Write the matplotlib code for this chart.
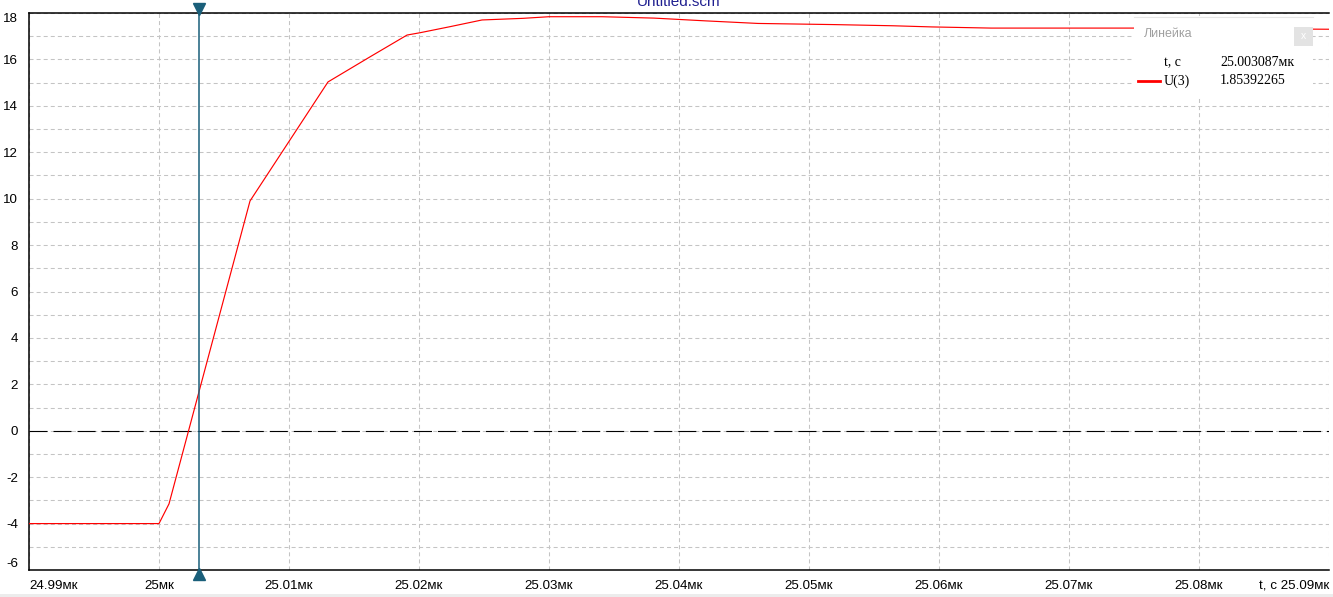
import numpy as np
import matplotlib
matplotlib.use("Agg")
import matplotlib.pyplot as plt
from matplotlib.patches import Rectangle
from matplotlib.transforms import offset_copy

# U(3) transient, time in microseconds
t_us = [24.99, 25.0, 25.00077, 25.0070, 25.0130, 25.01623, 25.01908, 25.02008,
        25.02238, 25.02485, 25.0280, 25.0300, 25.03408, 25.03808, 25.04208,
        25.04608, 25.0520, 25.05646, 25.05946, 25.0640, 25.075, 25.09]
u3 = [-4.0, -4.0, -3.15, 9.9, 15.03, 16.11, 17.05, 17.15,
      17.41, 17.70, 17.77, 17.84, 17.84, 17.78, 17.66,
      17.55, 17.50, 17.45, 17.40, 17.35, 17.35, 17.30]

cursor_t = 25.003087
cursor_val = "1.85392265"
x_ticks = [24.99, 25.0, 25.01, 25.02, 25.03, 25.04, 25.05, 25.06, 25.07, 25.08, 25.09]
y_ticks = [-6, -4, -2, 0, 2, 4, 6, 8, 10, 12, 14, 16, 18]

W, H = 1333, 597
plt.rcParams['lines.scale_dashes'] = False

def fx(px):
    return px / W

def fy(py):
    return 1 - py / H

fig = plt.figure(figsize=(W / 100, H / 100), dpi=100)
fig.patch.set_facecolor('white')
ax = fig.add_axes([fx(29), fy(570), fx(1300), 557 / H])

ax.set_xlim(24.99, 25.09)
ax.set_ylim(-6, 18)

# grid
ax.set_xticks(x_ticks)
ax.set_yticks(y_ticks)
ax.set_yticks(np.arange(-5, 18, 2), minor=True)
ax.grid(True, which='both', color='#c4c4c4', linestyle=(0, (2.9, 2.2)), linewidth=0.75)
ax.set_axisbelow(True)
ax.tick_params(which='both', length=0)

labels = []
for v in x_ticks:
    s = f"{v:.2f}".rstrip('0').rstrip('.') + "мк"
    labels.append(s)
labels[-1] = "t, c " + labels[-1]
ax.set_xticklabels(labels, fontsize=9.6, family='Liberation Sans')
xl = ax.get_xticklabels()
xl[0].set_ha('left')
xl[-1].set_ha('right')
ax.tick_params(axis='x', pad=7)

ax.set_yticklabels([str(v) for v in y_ticks], fontsize=9.6, family='Liberation Sans')
yl = ax.get_yticklabels()
yl[0].set_va('bottom')
yl[-1].set_va('top')
ax.tick_params(axis='y', pad=8)

for side in ['left', 'top', 'bottom']:
    ax.spines[side].set_linewidth(1.1)
    ax.spines[side].set_color('black')
ax.spines['right'].set_visible(False)

# zero line
ax.axhline(0, color='black', linewidth=0.8, linestyle=(0, (13, 4.3)), zorder=2)

# signal
ax.plot(t_us, u3, color='#ff0000', linewidth=0.85, zorder=3)

# cursor
cur_col = '#1a5f7a'
ax.axvline(cursor_t, color=cur_col, linewidth=1.1, zorder=4)
tr_top = offset_copy(ax.get_xaxis_transform(), fig=fig, y=4, units='dots')
tr_bot = offset_copy(ax.get_xaxis_transform(), fig=fig, y=-4, units='dots')
ax.plot([cursor_t], [1], marker='v', markersize=8.5, color=cur_col,
        transform=tr_top, clip_on=False, zorder=6)
ax.plot([cursor_t], [0], marker='^', markersize=8.5, color=cur_col,
        transform=tr_bot, clip_on=False, zorder=6)

# title (cropped at the top, as in the original window)
fig.text(fx(679), fy(6), "Untitled.scm", ha='center', va='baseline',
         fontsize=11, color='#202090', family='Liberation Sans')

# ruler panel
ax.add_patch(Rectangle((fx(1134), fy(96)), fx(179), 80 / H, transform=fig.transFigure,
                       facecolor='white', edgecolor='none', zorder=10, clip_on=False))
ax.plot([fx(1134), fx(1313)], [fy(16.5), fy(16.5)], transform=fig.transFigure,
        color='#e6e6e6', linewidth=0.8, zorder=11, clip_on=False)
ax.add_patch(Rectangle((fx(1294), fy(46)), fx(19), 19 / H, transform=fig.transFigure,
                       facecolor='#e3e3e3', edgecolor='none', zorder=11, clip_on=False))
fig.text(fx(1303.5), fy(36), "x", ha='center', va='center', fontsize=7.5,
         color='white', family='Liberation Sans', zorder=12)
fig.text(fx(1144), fy(34), "Линейка", ha='left', va='center', fontsize=9,
         color='#a0a0a0', family='Liberation Sans', zorder=12)

fig.text(fx(1164), fy(63), "t, c", ha='left', va='center', fontsize=10,
         family='Liberation Serif', zorder=12)
fig.text(fx(1220), fy(63), f"{cursor_t:.6f}мк", ha='left', va='center', fontsize=10,
         family='Liberation Serif', zorder=12)
ax.plot([fx(1138), fx(1160)], [fy(80.5), fy(80.5)], transform=fig.transFigure,
        color='#ff0000', linewidth=2, zorder=12, clip_on=False)
fig.text(fx(1164), fy(81), "U(3)", ha='left', va='center', fontsize=10,
         family='Liberation Serif', zorder=12)
fig.text(fx(1220), fy(81), cursor_val, ha='left', va='center', fontsize=10,
         family='Liberation Serif', zorder=12)

# bottom status strip
fig.patches.append(Rectangle((0, 0), 1, 3 / H, transform=fig.transFigure,
                             facecolor='#ececec', edgecolor='none'))

fig.savefig("out.png", dpi=100)
